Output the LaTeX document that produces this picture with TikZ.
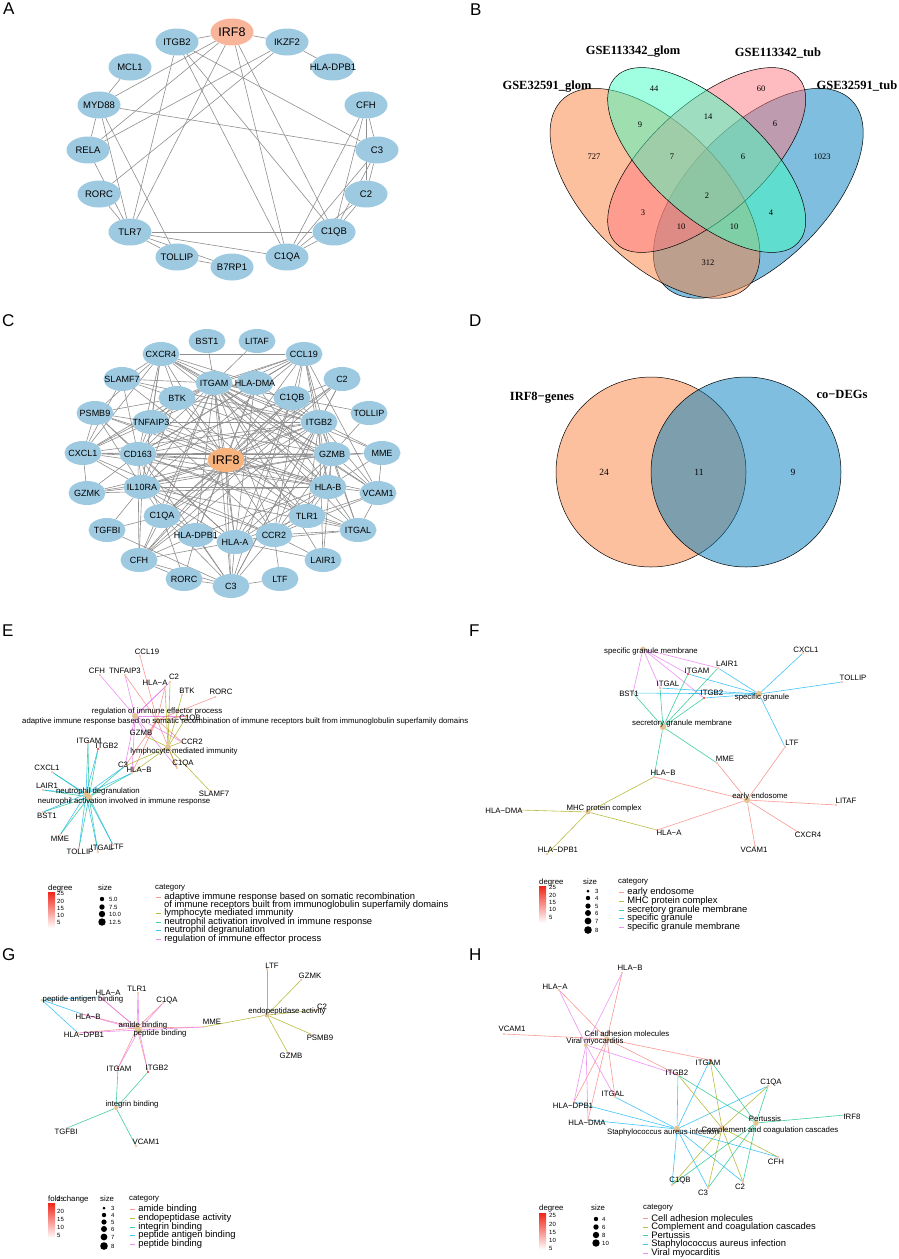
\documentclass[tikz,border=0pt]{standalone}
\usepackage{fontspec}
\setmainfont{Liberation Sans}
\newfontfamily\timesf{Liberation Serif}
\usetikzlibrary{shapes.geometric}

\pgfdeclarelayer{edges}
\pgfsetlayers{edges,main}

\definecolor{nodeblue}{HTML}{9ECAE1}
\definecolor{irfsalmon}{HTML}{F9B59A}
\definecolor{irforange}{HTML}{F8B27C}
\definecolor{linkgray}{HTML}{8E8E8E}
\definecolor{vorange}{HTML}{FB813D}
\definecolor{vblue}{HTML}{007DBD}
\definecolor{vgreen}{HTML}{41FFC1}
\definecolor{vpink}{HTML}{FF7981}
\definecolor{dotpeach}{HTML}{F7B49B}
\definecolor{dotred}{HTML}{EC2A1E}
\definecolor{dottan}{HTML}{E5C494}
\definecolor{barred}{HTML}{F0261A}
\definecolor{catA}{HTML}{F8766D}
\definecolor{catB}{HTML}{A3A500}
\definecolor{catC}{HTML}{00BF7D}
\definecolor{catD}{HTML}{00B0F6}
\definecolor{catE}{HTML}{E76BF3}

\tikzset{
	ppi/.style={ellipse, fill=nodeblue, inner sep=0pt, minimum width=43pt,
		minimum height=27pt, font=\fontsize{9.5}{10}\selectfont},
	ppic/.style={ppi, minimum width=37pt, minimum height=24pt,
		font=\fontsize{9}{10}\selectfont},
	link/.style={draw=linkgray, line width=0.6pt},
	venn/.style={draw=black, line width=0.5pt, fill opacity=0.5},
	setlab/.style={font=\timesf\bfseries\fontsize{12.5}{13}\selectfont, inner sep=0pt},
	setnum/.style={font=\timesf\fontsize{8.5}{9}\selectfont, inner sep=0pt},
	panel/.style={font=\fontsize{17}{18}\selectfont, anchor=north west, inner sep=0pt},
	gdot/.style={circle, fill=dotpeach, inner sep=0pt, minimum size=2.4pt},
	red/.style={fill=dotred},
	cdot/.style={circle, fill=dottan, inner sep=0pt, minimum size=#1},
	cdot/.default=5pt,
	glab/.style={font=\fontsize{7.8}{8}\selectfont, inner sep=0pt},
	lnA/.style={draw=catA, draw opacity=.75, line width=.6pt},
	lnB/.style={draw=catB, draw opacity=.75, line width=.6pt},
	lnC/.style={draw=catC, draw opacity=.75, line width=.6pt},
	lnD/.style={draw=catD, draw opacity=.75, line width=.6pt},
	lnE/.style={draw=catE, draw opacity=.75, line width=.6pt},
	legtitle/.style={font=\fontsize{7.8}{8}\selectfont, anchor=west, inner sep=0pt},
	tick/.style={font=\fontsize{6}{6}\selectfont, anchor=west, inner sep=0pt},
	sdot/.style={circle, fill=black, inner sep=0pt},
	keytxt/.style={font=\fontsize{9.4}{9.4}\selectfont, anchor=west, inner sep=0pt, xshift=3pt}
}

% gene point and its label
\newcommand{\gene}[5][]{
	\node[gdot,#1] (#2) at (#3) {};
	\node[glab] (#2t) at (#4) {#5};
}
% enriched term point and its label
\newcommand{\goterm}[5][5pt]{
	\node[cdot=#1] (#2) at (#3) {};
	\node[glab] (#2t) at (#4) {#5};
}
\newcommand{\catkey}[4]{
	\draw[#2] (#3) -- ++(5,0) node[keytxt] (#1) {#4};
}

\begin{document}
\begin{tikzpicture}[x=1pt, y=-1pt]
	\useasboundingbox (0,0) rectangle (899,1259);

	% ---------- A ----------
	\node[panel] (labA) at (3,3) {A};
	\node[ppi, fill=irfsalmon, font=\fontsize{12.5}{13}\selectfont] (aIRF8) at (232,32) {\makebox[0pt]{IRF8}};
	\foreach \n/\t/\x/\y in {ITGB2/ITGB2/177/42, IKZF2/IKZF2/287/42, MCL1/MCL1/130/67,
		HLADPB1/HLA-DPB1/333/67, MYD88/MYD88/99/105, CFH/CFH/366/105, RELA/RELA/88/150,
		C3/C3/377/150, RORC/RORC/99/194, C2/C2/366/194, TLR7/TLR7/130/232,
		C1QB/C1QB/334/232, TOLLIP/TOLLIP/177/257, C1QA/C1QA/287/257, B7RP1/B7RP1/232/267}
		\node[ppi] (a\n) at (\x,\y) {\makebox[0pt]{\t}};
	\begin{pgfonlayer}{edges}
		\foreach \u/\v in {IRF8/ITGB2, IRF8/IKZF2, IRF8/MYD88, IRF8/RELA, IRF8/TLR7, IRF8/C1QA,
			IRF8/C1QB, ITGB2/TLR7, ITGB2/C1QA, ITGB2/C1QB, ITGB2/C3, IKZF2/RELA, IKZF2/RORC,
			IKZF2/HLADPB1, MCL1/MYD88, MYD88/C3, MYD88/RELA, MYD88/TLR7, MYD88/TOLLIP,
			RELA/TLR7, RORC/TLR7, TLR7/C1QB, TLR7/C1QA, TLR7/TOLLIP, TLR7/B7RP1, TOLLIP/B7RP1,
			CFH/C3, CFH/C2, CFH/C1QB, CFH/C1QA, C3/C2, C3/C1QB, C3/C1QA, C2/C1QB, C2/C1QA,
			C1QB/C1QA}
			\draw[link] (a\u) -- (a\v);
	\end{pgfonlayer}

	% ---------- B ----------
	\node[panel] (labB) at (470,4) {B};
	\draw[venn, fill=vblue, rotate around={45:(758.3,193.3)}] (758.3,193.3) ellipse [x radius=131.7pt, y radius=68.3pt];
	\draw[venn, fill=vorange, rotate around={-45:(655,193.3)}] (655,193.3) ellipse [x radius=131.7pt, y radius=68.3pt];
	\draw[venn, fill=vpink, rotate around={42:(706.7,160)}] (706.7,160) ellipse [x radius=123.3pt, y radius=56pt];
	\draw[venn, fill=vgreen, rotate around={-42:(706.7,160)}] (706.7,160) ellipse [x radius=123.3pt, y radius=56pt];
	\node[setlab] (sGlomB) at (633,52) {GSE113342\_glom};
	\node[setlab] (sTubB) at (778,53) {GSE113342\_tub};
	\node[setlab] (sGlomA) at (547,87) {GSE32591\_glom};
	\node[setlab] (sTubA) at (857,86) {GSE32591\_tub};
	\foreach \v/\x/\y [count=\i] in {44/654/89, 60/761/89, 9/640/125, 14/708/117, 6/775/124,
		727/594/157, 7/672/157, 6/743/157, 1023/822/157, 2/707/196, 3/643/213, 4/771/213,
		10/681/227, 10/734/227, 312/708/263}
		\node[setnum] (bn\i) at (\x,\y) {\v};

	% ---------- C ----------
	\node[panel] (labC) at (2,314) {C};
	\foreach \n/\t/\x/\y in {BST1/BST1/207/341, LITAF/LITAF/257/341, CXCR4/CXCR4/161/354,
		CCL19/CCL19/304/354, SLAMF7/SLAMF7/122/379, ITGAM/ITGAM/214/383, HLADMA/HLA-DMA/255/383,
		C2/C2/342/379, BTK/BTK/177/398, C1QB/C1QB/292/398, PSMB9/PSMB9/95/413,
		TOLLIP/TOLLIP/369/413, TNFAIP3/TNFAIP3/151/422, ITGB2/ITGB2/319/422, CXCL1/CXCL1/83/453,
		CD163/CD163/138/454, GZMB/GZMB/332/454, MME/MME/382/453, GZMK/GZMK/87/493,
		IL10RA/IL10RA/142/487, HLAB/HLA-B/328/487, VCAM1/VCAM1/378/493, C1QA/C1QA/162/516,
		TLR1/TLR1/307/516, TGFBI/TGFBI/107/530, ITGAL/ITGAL/358/530, HLADPB1/HLA-DPB1/196/535,
		HLAA/HLA-A/235/542, CCR2/CCR2/274/535, CFH/CFH/139/560, LAIR1/LAIR1/323/560,
		RORC/RORC/184/579, C3/C3/231/586, LTF/LTF/280/579}
		\node[ppic] (c\n) at (\x,\y) {\makebox[0pt]{\t}};
	\node[ppic, fill=irforange, font=\fontsize{12.5}{13}\selectfont] (cIRF8) at (226,460) {\makebox[0pt]{IRF8}};
	\begin{pgfonlayer}{edges}
		\foreach \u/\v in {IRF8/ITGAM, IRF8/HLADMA, IRF8/BTK, IRF8/C1QB, IRF8/TNFAIP3, IRF8/ITGB2,
			IRF8/CD163, IRF8/GZMB, IRF8/IL10RA, IRF8/HLAB, IRF8/VCAM1, IRF8/C1QA, IRF8/TLR1,
			IRF8/HLADPB1, IRF8/HLAA, IRF8/CCR2, IRF8/CFH, IRF8/CXCR4, IRF8/CCL19, IRF8/ITGAL,
			IRF8/CXCL1, IRF8/C3, IRF8/SLAMF7, IRF8/PSMB9, IRF8/GZMK, IRF8/MME, IRF8/C2,
			CXCR4/CCL19, CXCR4/ITGAM, CXCR4/BTK, CXCR4/TNFAIP3, CXCR4/CD163, CXCR4/IL10RA,
			CXCR4/PSMB9, CXCR4/CXCL1, CXCR4/ITGB2, CXCR4/GZMB, CXCR4/HLADMA, CXCR4/HLAB,
			CXCR4/VCAM1, CXCR4/SLAMF7, CCL19/ITGAM, CCL19/HLADMA, CCL19/C1QB, CCL19/ITGB2,
			CCL19/GZMB, CCL19/HLAB, CCL19/VCAM1, CCL19/CCR2, CCL19/CD163, CCL19/IL10RA,
			CCL19/TNFAIP3, CCL19/BTK, BST1/ITGAM, LITAF/ITGAM, SLAMF7/ITGAM, SLAMF7/BTK,
			SLAMF7/CD163, SLAMF7/CXCL1, SLAMF7/ITGB2, ITGAM/BTK, ITGAM/TNFAIP3, ITGAM/ITGB2,
			ITGAM/GZMB, ITGAM/CD163, ITGAM/IL10RA, ITGAM/HLAB, ITGAM/VCAM1, ITGAM/C1QA,
			ITGAM/HLADPB1, ITGAM/HLAA, ITGAM/CCR2, ITGAM/TLR1, ITGAM/ITGAL, ITGAM/CXCL1,
			ITGAM/C3, ITGAM/CFH, ITGAM/LAIR1, ITGAM/MME, ITGAM/C1QB, ITGAM/TOLLIP,
			HLADMA/HLAB, HLADMA/HLAA, HLADMA/HLADPB1, HLADMA/CD163, HLADMA/ITGB2,
			C2/C1QB, C2/C3, C2/CFH, C2/C1QA, C2/ITGB2, BTK/TNFAIP3, BTK/CD163, BTK/IL10RA,
			BTK/ITGB2, BTK/GZMB, BTK/PSMB9, BTK/CXCL1, BTK/TLR1, C1QB/C1QA, C1QB/C3, C1QB/CFH,
			C1QB/ITGB2, C1QB/CD163, C1QB/HLAA, PSMB9/TNFAIP3, PSMB9/CD163, PSMB9/IL10RA,
			PSMB9/HLAB, PSMB9/HLAA, PSMB9/CXCL1, TOLLIP/GZMB, TNFAIP3/CD163, TNFAIP3/IL10RA,
			TNFAIP3/CXCL1, TNFAIP3/ITGB2, TNFAIP3/GZMB, TNFAIP3/HLAB, TNFAIP3/CCR2,
			ITGB2/GZMB, ITGB2/MME, ITGB2/HLAB, ITGB2/VCAM1, ITGB2/ITGAL, ITGB2/CD163,
			ITGB2/IL10RA, ITGB2/C1QA, ITGB2/HLAA, ITGB2/CCR2, ITGB2/TLR1, ITGB2/C3, ITGB2/CFH,
			ITGB2/CXCL1, ITGB2/LAIR1, CXCL1/CD163, CXCL1/IL10RA, CXCL1/GZMB, CXCL1/CCR2,
			CXCL1/HLAB, CXCL1/GZMK, CD163/IL10RA, CD163/GZMB, CD163/HLAB, CD163/C1QA,
			CD163/HLAA, CD163/CFH, CD163/C3, CD163/TLR1, CD163/GZMK, CD163/ITGAL, GZMB/MME,
			GZMB/HLAB, GZMB/VCAM1, GZMB/ITGAL, GZMB/TLR1, GZMB/CCR2, GZMB/HLAA, GZMB/IL10RA,
			GZMB/LAIR1, MME/HLAB, MME/VCAM1, GZMK/IL10RA, GZMK/GZMB, GZMK/HLAB, IL10RA/HLAB,
			IL10RA/C1QA, IL10RA/HLADPB1, IL10RA/HLAA, IL10RA/CCR2, IL10RA/ITGAL, IL10RA/TGFBI,
			IL10RA/CFH, HLAB/VCAM1, HLAB/HLAA, HLAB/HLADPB1, HLAB/ITGAL, HLAB/TLR1, HLAB/CCR2,
			VCAM1/ITGAL, VCAM1/TLR1, VCAM1/CCR2, C1QA/CFH, C1QA/C3, C1QA/HLADPB1, C1QA/RORC,
			C1QA/TGFBI, TLR1/CCR2, TLR1/HLAA, TLR1/ITGAL, TGFBI/C3, ITGAL/CCR2, ITGAL/HLAA,
			HLADPB1/HLAA, HLADPB1/RORC, HLADPB1/C3, HLADPB1/CFH, HLAA/CCR2, HLAA/C3,
			HLAA/LAIR1, HLAA/CFH, CCR2/LTF, CCR2/C3, CCR2/LAIR1, CFH/C3, CFH/RORC, RORC/C3,
			C3/LTF}
			\draw[link] (c\u) -- (c\v);
	\end{pgfonlayer}

	% ---------- D ----------
	\node[panel] (labD) at (469,315) {D};
	\draw[venn, fill=vorange] (651,472) circle [radius=95pt];
	\draw[venn, fill=vblue] (746,472) circle [radius=95pt];
	\node[setlab] (sIRF) at (542,398) {IRF8−genes};
	\node[setlab] (sCo) at (842,394) {co−DEGs};
	\node[setnum, font=\timesf\fontsize{9.5}{10}\selectfont] (dn1) at (604,472) {24};
	\node[setnum, font=\timesf\fontsize{9.5}{10}\selectfont] (dn2) at (699,472) {11};
	\node[setnum, font=\timesf\fontsize{9.5}{10}\selectfont] (dn3) at (793,472) {9};

	% ---------- E ----------
	\node[panel] (labE) at (2,625) {E};
	\gene{eCCL19}{140,656}{147,652}{CCL19}
	\gene{eCFH}{100,675}{97,671}{CFH}
	\gene{eTNFAIP3}{125,675}{125,671}{TNFAIP3}
	\gene{eC2}{170,682}{174,677}{C2}
	\gene{eHLAA}{165,687}{155,683}{HLA−A}
	\gene{eBTK}{182,695}{187,691}{BTK}
	\gene{eRORC}{215,697}{221,692}{RORC}
	\gene{eC1QB}{187,716}{190,719}{C1QB}
	\gene{eGZMB}{147,737}{141,733}{GZMB}
	\gene{eITGAM}{88,743}{89,741}{ITGAM}
	\gene[red]{eITGB2}{98,749}{107,746}{ITGB2}
	\gene{eCCR2}{182,742}{192,742}{CCR2}
	\gene{eCXCL1}{52,772}{47,768}{CXCL1}
	\gene{eC3}{125,766}{123,765}{C3}
	\gene{eHLAB}{132,773}{139,770}{HLA−B}
	\gene{eC1QA}{177,768}{183,764}{C1QA}
	\gene{eLAIR1}{43,790}{47,786}{LAIR1}
	\gene{eSLAMF7}{210,791}{214,794}{SLAMF7}
	\gene{eBST1}{43,812}{47,816}{BST1}
	\gene{eMME}{60,835}{60,839}{MME}
	\gene{eTOLLIP}{79,848}{80,852}{TOLLIP}
	\gene{eITGAL}{98,852}{102,848}{ITGAL}
	\gene{eLTF}{113,845}{117,847}{LTF}
	\goterm[6pt]{eReg}{135,716}{157,711}{regulation of immune effector process}
	\node[cdot=5pt] (eAdapt) at (157,720) {};
	\node[glab, anchor=west] (eAdaptt) at (22,721) {adaptive immune response based on somatic recombination of immune receptors built from immunoglobulin superfamily domains};
	\goterm[6pt]{eLymph}{168,747}{184,751}{lymphocyte mediated immunity}
	\goterm[6pt]{eNdeg}{86,794}{98,791}{neutrophil degranulation}
	\goterm[6pt]{eNact}{89,797}{124,801}{neutrophil activation involved in immune response}
	\begin{pgfonlayer}{edges}
		\foreach \g in {CFH, TNFAIP3, HLAA, C2, C1QB, GZMB, C3, HLAB, C1QA, CCR2}
			\draw[lnE] (eReg) -- (e\g);
		\foreach \g in {CCL19, TNFAIP3, HLAA, RORC, C1QB, CCR2, C1QA, HLAB, C3, GZMB}
			\draw[lnA] (eAdapt) -- (e\g);
		\foreach \g in {HLAA, C2, BTK, C1QB, GZMB, CCR2, C1QA, SLAMF7, HLAB, C3}
			\draw[lnB] (eLymph) -- (e\g);
		\foreach \g in {ITGAM, ITGB2, CXCL1, LAIR1, BST1, MME, TOLLIP, ITGAL, LTF, C3, HLAB}
			\draw[lnC] (eNact) -- (e\g);
		\foreach \g in {ITGAM, ITGB2, CXCL1, LAIR1, BST1, MME, TOLLIP, ITGAL, LTF, C3, HLAB}
			\draw[lnD] (eNdeg) -- (e\g);
	\end{pgfonlayer}
	% legend E
	\node[legtitle] (eDegT) at (48,888) {degree};
	\shade[top color=barred, bottom color=white] (48,892) rectangle (55,928);
	\foreach \v/\y in {25/893, 20/901, 15/908, 10/915, 5/922}
		\node[tick] (eDeg\v) at (57,\y) {\v};
	\node[legtitle] (eSizeT) at (98,888) {size};
	\foreach \v/\y/\d [count=\i] in {5.0/899/4.4, 7.5/907/5.4, 10.0/914/6.4, 12.5/922/7.4} {
		\node[sdot, minimum size=\d pt] (eSz\i) at (102,\y) {};
		\node[tick] (eSzT\i) at (109,\y) {\v};
	}
	\node[legtitle] (eCatT) at (155,888) {category};
	\catkey{eK1}{lnA}{156,897}{adaptive immune response based on somatic recombination}
	\node[keytxt] (eK1b) at (161,905) {of immune receptors built from immunoglobulin superfamily domains};
	\catkey{eK2}{lnB}{156,913}{lymphocyte mediated immunity}
	\catkey{eK3}{lnC}{156,922}{neutrophil activation involved in immune response}
	\catkey{eK4}{lnD}{156,930}{neutrophil degranulation}
	\catkey{eK5}{lnE}{156,939}{regulation of immune effector process}

	% ---------- F ----------
	\node[panel] (labF) at (469,625) {F};
	\gene{fCXCL1}{803,653}{806,650}{CXCL1}
	\gene{fLAIR1}{718,668}{727,664}{LAIR1}
	\gene[red]{fITGAM}{688,674}{697,671}{ITGAM}
	\gene{fITGAL}{660,688}{668,684}{ITGAL}
	\gene{fTOLLIP}{842,682}{853,678}{TOLLIP}
	\gene{fBST1}{633,693}{629,694}{BST1}
	\gene[red]{fITGB2}{704,698}{712,693}{ITGB2}
	\gene{fLTF}{785,747}{792,743}{LTF}
	\gene{fMME}{717,763}{725,759}{MME}
	\gene{fHLAB}{654,777}{663,773}{HLA−B}
	\gene{fLITAF}{836,805}{846,801}{LITAF}
	\gene{fHLADMA}{520,810}{504,811}{HLA−DMA}
	\gene{fHLAA}{657,830}{669,833}{HLA−A}
	\gene{fCXCR4}{798,832}{808,835}{CXCR4}
	\gene{fHLADPB1}{547,854}{558,850}{HLA−DPB1}
	\gene{fVCAM1}{755,846}{754,850}{VCAM1}
	\goterm{fSgm}{643,649}{651,651}{specific granule membrane}
	\goterm[6.5pt]{fSg}{759,694}{762,697}{specific granule}
	\goterm[6.5pt]{fSec}{663,727}{682,723}{secretory granule membrane}
	\goterm[6.5pt]{fEe}{747,800}{760,796}{early endosome}
	\goterm{fMhc}{588,812}{604,808}{MHC protein complex}
	\begin{pgfonlayer}{edges}
		\foreach \g in {BST1, ITGAL, ITGAM, LAIR1, ITGB2}
			\draw[lnE] (fSgm) -- (f\g);
		\foreach \g in {CXCL1, TOLLIP, LAIR1, ITGAM, BST1, ITGAL, ITGB2, LTF}
			\draw[lnD] (fSg) -- (f\g);
		\foreach \g in {BST1, ITGAL, ITGAM, LAIR1, ITGB2, HLAB, MME}
			\draw[lnC] (fSec) -- (f\g);
		\foreach \g in {MME, LTF, HLAB, LITAF, HLAA, CXCR4, VCAM1}
			\draw[lnA] (fEe) -- (f\g);
		\foreach \g in {HLAB, HLADMA, HLAA, HLADPB1}
			\draw[lnB] (fMhc) -- (f\g);
	\end{pgfonlayer}
	% legend F
	\node[legtitle] (fDegT) at (539,882) {degree};
	\shade[top color=barred, bottom color=white] (539,886) rectangle (546,923);
	\foreach \v/\y in {25/887, 20/895, 15/902, 10/909, 5/917}
		\node[tick] (fDeg\v) at (549,\y) {\v};
	\node[legtitle] (fSizeT) at (583,882) {size};
	\foreach \v/\y/\d in {3/891/3, 4/898/4.4, 5/906/5.2, 6/913/6, 7/921/6.8, 8/930/7.6} {
		\node[sdot, minimum size=\d pt] (fSz\v) at (588,\y) {};
		\node[tick] (fSzT\v) at (595,\y) {\v};
	}
	\node[legtitle] (fCatT) at (618,882) {category};
	\catkey{fK1}{lnA}{619,892}{early endosome}
	\catkey{fK2}{lnB}{619,901}{MHC protein complex}
	\catkey{fK3}{lnC}{619,910}{secretory granule membrane}
	\catkey{fK4}{lnD}{619,918}{specific granule}
	\catkey{fK5}{lnE}{619,927}{specific granule membrane}

	% ---------- G ----------
	\node[panel] (labG) at (2,948) {G};
	\gene{gLTF}{267,969}{272,966}{LTF}
	\gene{gGZMK}{301,980}{310,976}{GZMK}
	\gene{gHLAA}{100,997}{108,993}{HLA−A}
	\gene{gTLR1}{138,993}{137,989}{TLR1}
	\gene{gC1QA}{163,1003}{167,1000}{C1QA}
	\gene{gC2}{317,1010}{322,1007}{C2}
	\gene{gHLAB}{82,1014}{88,1017}{HLA−B}
	\gene{gMME}{203,1027}{212,1022}{MME}
	\gene{gHLADPB1}{78,1033}{84,1035}{HLA−DPB1}
	\gene{gPSMB9}{313,1035}{320,1038}{PSMB9}
	\gene{gGZMB}{288,1053}{291,1056}{GZMB}
	\gene[red]{gITGAM}{118,1068}{119,1069}{ITGAM}
	\gene[red]{gITGB2}{148,1072}{157,1068}{ITGB2}
	\gene{gTGFBI}{67,1128}{66,1132}{TGFBI}
	\gene{gVCAM1}{136,1146}{146,1142}{VCAM1}
	\goterm[3pt]{gPab}{42,1000}{83,999}{peptide antigen binding}
	\goterm[6pt]{gAmide}{137,1028}{143,1025}{amide binding}
	\goterm[6pt]{gPep}{139,1030}{160,1033}{peptide binding}
	\goterm{gEndo}{267,1015}{287,1011}{endopeptidase activity}
	\goterm[4pt]{gInteg}{116,1108}{132,1104}{integrin binding}
	\begin{pgfonlayer}{edges}
		\foreach \g in {HLAA, HLAB, HLADPB1}
			\draw[lnD] (gPab) -- (g\g);
		\foreach \g in {HLAA, TLR1, C1QA, HLAB, HLADPB1, ITGAM, ITGB2, MME}
			\draw[lnA] (gAmide) -- (g\g);
		\foreach \g in {HLAA, TLR1, C1QA, HLAB, HLADPB1, ITGAM, ITGB2, MME}
			\draw[lnE] (gPep) -- (g\g);
		\foreach \g in {LTF, GZMK, C2, PSMB9, GZMB, MME}
			\draw[lnB] (gEndo) -- (g\g);
		\foreach \g in {ITGAM, ITGB2, TGFBI, VCAM1}
			\draw[lnC] (gInteg) -- (g\g);
	\end{pgfonlayer}
	% legend G
	\node[legtitle] (gFcT) at (48,1199) {fold change};
	\shade[top color=barred, bottom color=white] (48,1203) rectangle (55,1238);
	\foreach \v/\y in {25/1199, 20/1211, 15/1219, 10/1227, 5/1235}
		\node[tick] (gFc\v) at (57,\y) {\v};
	\node[legtitle] (gSizeT) at (100,1199) {size};
	\foreach \v/\y/\d in {3/1208/3, 4/1215/4.4, 5/1222/5.2, 6/1229/6, 7/1237/6.8, 8/1246/7.6} {
		\node[sdot, minimum size=\d pt] (gSz\v) at (104,\y) {};
		\node[tick] (gSzT\v) at (111,\y) {\v};
	}
	\node[legtitle] (gCatT) at (129,1199) {category};
	\catkey{gK1}{lnA}{130,1209}{amide binding}
	\catkey{gK2}{lnB}{130,1218}{endopeptidase activity}
	\catkey{gK3}{lnC}{130,1227}{integrin binding}
	\catkey{gK4}{lnD}{130,1235}{peptide antigen binding}
	\catkey{gK5}{lnE}{130,1244}{peptide binding}

	% ---------- H ----------
	\node[panel] (labH) at (469,949) {H};
	\gene{hHLAB}{622,973}{630,968}{HLA−B}
	\gene{hHLAA}{559,990}{555,987}{HLA−A}
	\gene{hVCAM1}{504,1034}{512,1029}{VCAM1}
	\gene[red]{hITGAM}{710,1060}{708,1063}{ITGAM}
	\gene{hITGB2}{678,1075}{677,1073}{ITGB2}
	\gene{hC1QA}{768,1086}{771,1082}{C1QA}
	\gene{hITGAL}{615,1097}{613,1094}{ITGAL}
	\gene{hHLADPB1}{574,1102}{573,1106}{HLA−DPB1}
	\gene{hIRF8}{845,1115}{852,1117}{IRF8}
	\gene{hHLADMA}{588,1120}{587,1123}{HLA−DMA}
	\gene{hCFH}{778,1157}{776,1162}{CFH}
	\gene{hC1QB}{672,1185}{680,1180}{C1QB}
	\gene{hC2}{743,1182}{740,1187}{C2}
	\gene{hC3}{708,1188}{703,1193}{C3}
	\goterm{hCam}{607,1039}{627,1034}{Cell adhesion molecules}
	\goterm[4pt]{hVm}{586,1045}{595,1041}{Viral myocarditis}
	\goterm[6.5pt]{hStaph}{677,1129}{663,1132}{Staphylococcus aureus infection}
	\goterm[5.5pt]{hComp}{722,1128}{770,1130}{Complement and coagulation cascades}
	\goterm[5.5pt]{hPert}{756,1123}{765,1119}{Pertussis}
	\begin{pgfonlayer}{edges}
		\foreach \g in {HLAB, HLAA, VCAM1, ITGAM, ITGB2, ITGAL, HLADPB1, HLADMA}
			\draw[lnA] (hCam) -- (h\g);
		\foreach \g in {HLAA, HLAB, ITGB2, HLADPB1, HLADMA, ITGAL}
			\draw[lnE] (hVm) -- (h\g);
		\foreach \g in {ITGAM, ITGB2, ITGAL, HLADPB1, HLADMA, C1QA, CFH, C1QB, C3, C2}
			\draw[lnD] (hStaph) -- (h\g);
		\foreach \g in {ITGAM, ITGB2, C1QA, CFH, C1QB, C3, C2}
			\draw[lnB] (hComp) -- (h\g);
		\foreach \g in {ITGAM, ITGB2, C1QA, IRF8, C1QB, C3, C2}
			\draw[lnC] (hPert) -- (h\g);
	\end{pgfonlayer}
	% legend H
	\node[legtitle] (hDegT) at (539,1208) {degree};
	\shade[top color=barred, bottom color=white] (539,1213) rectangle (546,1250);
	\foreach \v/\y in {25/1215, 20/1224, 15/1232, 10/1240, 5/1248}
		\node[tick] (hDeg\v) at (549,\y) {\v};
	\node[legtitle] (hSizeT) at (591,1208) {size};
	\foreach \v/\y/\d in {4/1219/4.4, 6/1227/5.4, 8/1235/6.4, 10/1243/7.4} {
		\node[sdot, minimum size=\d pt] (hSz\v) at (596,\y) {};
		\node[tick] (hSzT\v) at (602,\y) {\v};
	}
	\node[legtitle] (hCatT) at (643,1208) {category};
	\catkey{hK1}{lnA}{643,1218}{Cell adhesion molecules}
	\catkey{hK2}{lnB}{643,1227}{Complement and coagulation cascades}
	\catkey{hK3}{lnC}{643,1235}{Pertussis}
	\catkey{hK4}{lnD}{643,1244}{Staphylococcus aureus infection}
	\catkey{hK5}{lnE}{643,1253}{Viral myocarditis}
\end{tikzpicture}
\end{document}
